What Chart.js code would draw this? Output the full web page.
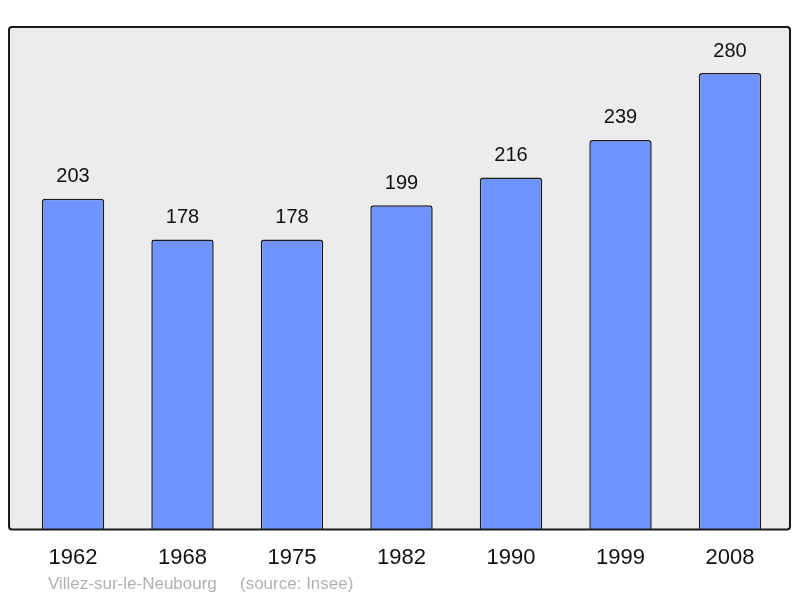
<!DOCTYPE html>
<html>
<head>
<meta charset="utf-8">
<script src="https://cdn.jsdelivr.net/npm/chart.js@4/dist/chart.umd.min.js"></script>
<style>
  html, body { margin: 0; padding: 0; background: #ffffff; }
  #wrap { width: 800px; height: 598px; position: relative; }
</style>
</head>
<body>
<div id="wrap"><canvas id="c" width="800" height="598"></canvas></div>
<script>
const years = ["1962", "1968", "1975", "1982", "1990", "1999", "2008"];
const population = [203, 178, 178, 199, 216, 239, 280];
const sourceName = "Villez-sur-le-Neubourg";
const sourceNote = "(source: Insee)";

const FONT = "'Liberation Sans', Arial, sans-serif";

const framePlugin = {
  id: 'frame',
  frameRect(chart) {
    const a = chart.chartArea;
    return { x: a.left - 9.25, y: a.top - 13.5, w: (a.right - a.left) + 9.25 + 5.25, h: (a.bottom - a.top) + 13.5 };
  },
  roundRect(ctx, x, y, w, h, r) {
    ctx.beginPath();
    ctx.moveTo(x + r, y);
    ctx.lineTo(x + w - r, y);
    ctx.quadraticCurveTo(x + w, y, x + w, y + r);
    ctx.lineTo(x + w, y + h - r);
    ctx.quadraticCurveTo(x + w, y + h, x + w - r, y + h);
    ctx.lineTo(x + r, y + h);
    ctx.quadraticCurveTo(x, y + h, x, y + h - r);
    ctx.lineTo(x, y + r);
    ctx.quadraticCurveTo(x, y, x + r, y);
    ctx.closePath();
  },
  beforeDatasetsDraw(chart) {
    const ctx = chart.ctx;
    const f = this.frameRect(chart);
    ctx.save();
    this.roundRect(ctx, f.x, f.y, f.w, f.h, 3);
    ctx.fillStyle = '#ececec';
    ctx.fill();
    ctx.restore();
  },
  afterDatasetsDraw(chart) {
    const ctx = chart.ctx;
    const f = this.frameRect(chart);
    ctx.save();
    this.roundRect(ctx, f.x, f.y, f.w, f.h, 3);
    ctx.lineWidth = 2;
    ctx.strokeStyle = '#1a1a1a';
    ctx.stroke();
    // value labels
    const meta = chart.getDatasetMeta(0);
    ctx.fillStyle = '#111';
    ctx.font = '20px ' + FONT;
    ctx.textAlign = 'center';
    ctx.textBaseline = 'middle';
    meta.data.forEach((bar, i) => {
      ctx.fillText(String(population[i]), bar.x, bar.y - 22);
    });
    // source line
    ctx.fillStyle = '#b0b0b0';
    ctx.font = '17px ' + FONT;
    ctx.textAlign = 'left';
    ctx.fillText(sourceName, 48, 584);
    ctx.fillText(sourceNote, 240, 584);
    ctx.restore();
  }
};

new Chart(document.getElementById('c'), {
  type: 'bar',
  data: {
    labels: years,
    datasets: [{
      data: population,
      backgroundColor: '#7094ff',
      borderColor: '#1a1a1a',
      borderWidth: 1.5,
      borderRadius: { topLeft: 3, topRight: 3, bottomLeft: 0, bottomRight: 0 },
      borderSkipped: 'bottom',
      categoryPercentage: 1.0,
      barPercentage: 0.57
    }]
  },
  options: {
    responsive: false,
    animation: false,
    devicePixelRatio: 1,
    layout: { padding: { left: 18.25, right: 15.25, top: 40.5, bottom: 12 } },
    plugins: { legend: { display: false }, tooltip: { enabled: false }, title: { display: false } },
    scales: {
      x: {
        display: true,
        offset: true,
        border: { display: false },
        grid: { display: false, drawTicks: false },
        ticks: { color: '#111', font: { family: FONT, size: 22 }, padding: 15, maxRotation: 0 }
      },
      y: {
        display: false,
        min: 0,
        max: 300
      }
    }
  },
  plugins: [framePlugin]
});
</script>
</body>
</html>
